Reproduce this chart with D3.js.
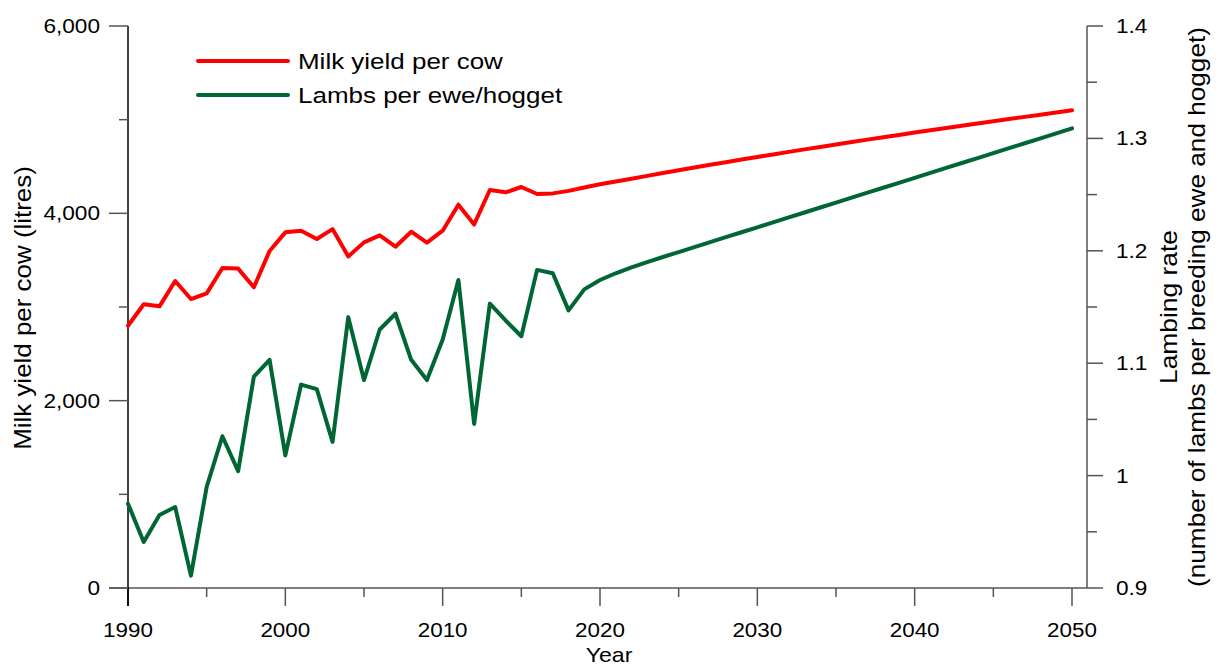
<!DOCTYPE html>
<html>
<head>
<meta charset="utf-8">
<script src="https://cdn.jsdelivr.net/npm/d3@7"></script>
<style>
  body { margin: 0; background: #fff; }
  svg { font-family: "Liberation Sans", Arial, sans-serif; }
  .axis text { font-size: 20px; fill: #000; }
  .axis-label { font-size: 24px; fill: #000; }
  .legend-label { font-size: 22px; fill: #000; }
</style>
</head>
<body>
<svg width="1218" height="666"></svg>
<script>
var svg = d3.select('svg');

// Data
var years = d3.range(1990, 2051);

var milkYield = [2800, 3029, 3007, 3277, 3085, 3146, 3416, 3410, 3210, 3598,
    3797, 3815, 3726, 3832, 3540, 3690, 3765, 3644, 3804, 3687,
    3815, 4092, 3882, 4249, 4224, 4281, 4206, 4213, 4240, 4275,
    4310, 4340, 4370, 4400, 4430, 4460, 4490, 4518, 4546, 4574,
    4602, 4629, 4656, 4683, 4709, 4735, 4761, 4787, 4812, 4837,
    4862, 4887, 4911, 4935, 4959, 4983, 5007, 5030, 5053, 5076,
    5100];

var lambingRate = [0.975, 0.941, 0.965, 0.972, 0.911, 0.990, 1.035, 1.004, 1.088, 1.103,
    1.018, 1.081, 1.077, 1.030, 1.141, 1.085, 1.130, 1.144, 1.103, 1.085,
    1.121, 1.174, 1.046, 1.153, 1.138, 1.124, 1.183, 1.180, 1.147, 1.1657,
    1.1740, 1.1800, 1.1853, 1.1900, 1.1945, 1.1989, 1.2033, 1.2077, 1.2121, 1.2165,
    1.2209, 1.2253, 1.2297, 1.2341, 1.2385, 1.2429, 1.2473, 1.2517, 1.2561, 1.2605,
    1.2649, 1.2693, 1.2737, 1.2781, 1.2825, 1.2869, 1.2913, 1.2957, 1.3001, 1.3045,
    1.3089];

var xTicks = [1990, 2000, 2010, 2020, 2030, 2040, 2050];
var xMinorTicks = [1995, 2005, 2015, 2025, 2035, 2045];
var leftTicks = [0, 2000, 4000, 6000];
var leftMinorTicks = [1000, 3000, 5000];
var rightTicks = [0.9, 1.0, 1.1, 1.2, 1.3, 1.4];
var rightMinorTicks = [0.95, 1.05, 1.15, 1.25, 1.35];

var seriesNames = ['Milk yield per cow', 'Lambs per ewe/hogget'];
var seriesColors = ['#ff0000', '#006633'];

// Layout
var plot = {l: 128, r: 1087, t: 26, b: 588};

var xScale = d3.scaleLinear().domain([1990, 2050]).range([plot.l, 1072]);
var yLeft = d3.scaleLinear().domain([0, 6000]).range([plot.b, plot.t]);
var yRight = d3.scaleLinear().domain([0.9, 1.4]).range([plot.b, plot.t]);

var tickColor = '#555';

// reference type is a little wider than Arial, so stretch texts by a factor
function widen(sel, factor) {
    sel.each(function() {
        var len = this.getComputedTextLength();
        d3.select(this)
            .attr('textLength', len * factor)
            .attr('lengthAdjust', 'spacingAndGlyphs');
    });
}

// Bottom axis
var bottomG = svg.append('g').attr('class', 'axis');
bottomG.append('line')
    .attr('x1', 109).attr('x2', plot.r)
    .attr('y1', plot.b).attr('y2', plot.b)
    .attr('stroke', tickColor).attr('stroke-width', 1.5);
bottomG.selectAll('.xmajor')
    .data(xTicks)
    .enter()
    .append('line')
    .attr('class', 'xmajor')
    .attr('x1', function(d) { return xScale(d); })
    .attr('x2', function(d) { return xScale(d); })
    .attr('y1', plot.b).attr('y2', plot.b + 18)
    .attr('stroke', function(d) { return d === 1990 ? '#000' : tickColor; })
    .attr('stroke-width', 1.5);
bottomG.selectAll('.xminor')
    .data(xMinorTicks)
    .enter()
    .append('line')
    .attr('class', 'xminor')
    .attr('x1', function(d) { return xScale(d); })
    .attr('x2', function(d) { return xScale(d); })
    .attr('y1', plot.b).attr('y2', plot.b + 9)
    .attr('stroke', tickColor).attr('stroke-width', 1.5);
bottomG.selectAll('.xlabel')
    .data(xTicks)
    .enter()
    .append('text')
    .attr('class', 'xlabel')
    .attr('x', function(d) { return xScale(d); })
    .attr('y', 637)
    .attr('text-anchor', 'middle')
    .text(function(d) { return d; })
    .call(widen, 1.12);

svg.append('text')
    .attr('class', 'axis-label')
    .style('font-size', '21px')
    .attr('x', 609).attr('y', 662)
    .attr('text-anchor', 'middle')
    .text('Year')
    .call(widen, 1.1);

// Left axis
var leftG = svg.append('g').attr('class', 'axis');
leftG.append('line')
    .attr('x1', plot.l).attr('x2', plot.l)
    .attr('y1', plot.t).attr('y2', plot.b + 18)
    .attr('stroke', '#000').attr('stroke-width', 1.5);
leftG.selectAll('.ymajor')
    .data(leftTicks)
    .enter()
    .append('line')
    .attr('x1', 109).attr('x2', plot.l)
    .attr('y1', function(d) { return yLeft(d); })
    .attr('y2', function(d) { return yLeft(d); })
    .attr('stroke', tickColor).attr('stroke-width', 1.5);
leftG.selectAll('.yminor')
    .data(leftMinorTicks)
    .enter()
    .append('line')
    .attr('x1', 119).attr('x2', plot.l)
    .attr('y1', function(d) { return yLeft(d); })
    .attr('y2', function(d) { return yLeft(d); })
    .attr('stroke', tickColor).attr('stroke-width', 1.5);
leftG.selectAll('.ylabel')
    .data(leftTicks)
    .enter()
    .append('text')
    .attr('x', 100)
    .attr('y', function(d) { return yLeft(d); })
    .attr('dy', '0.35em')
    .attr('text-anchor', 'end')
    .text(function(d) { return d3.format(',')(d); })
    .call(widen, 1.13);

svg.append('text')
    .attr('class', 'axis-label')
    .attr('transform', 'translate(' + [31, 308] + ')rotate(-90)')
    .attr('text-anchor', 'middle')
    .text('Milk yield per cow (litres)')
    .call(widen, 1.08);

// Right axis
var rightG = svg.append('g').attr('class', 'axis');
rightG.append('line')
    .attr('x1', plot.r).attr('x2', plot.r)
    .attr('y1', plot.t).attr('y2', plot.b)
    .attr('stroke', tickColor).attr('stroke-width', 1.5);
rightG.selectAll('.rmajor')
    .data(rightTicks)
    .enter()
    .append('line')
    .attr('x1', plot.r).attr('x2', plot.r + 16)
    .attr('y1', function(d) { return yRight(d); })
    .attr('y2', function(d) { return yRight(d); })
    .attr('stroke', tickColor).attr('stroke-width', 1.5);
rightG.selectAll('.rminor')
    .data(rightMinorTicks)
    .enter()
    .append('line')
    .attr('x1', plot.r).attr('x2', plot.r + 10)
    .attr('y1', function(d) { return yRight(d); })
    .attr('y2', function(d) { return yRight(d); })
    .attr('stroke', tickColor).attr('stroke-width', 1.5);
rightG.selectAll('.rlabel')
    .data(rightTicks)
    .enter()
    .append('text')
    .attr('x', 1116)
    .attr('y', function(d) { return yRight(d); })
    .attr('dy', '0.35em')
    .attr('text-anchor', 'start')
    .text(function(d) { return d3.format('~g')(d); })
    .call(widen, 1.13);

var rightTitle = svg.append('g')
    .attr('transform', 'translate(' + [1177, 307] + ')rotate(-90)');
rightTitle.append('text')
    .attr('class', 'axis-label')
    .attr('text-anchor', 'middle')
    .text('Lambing rate')
    .call(widen, 1.1);
rightTitle.append('text')
    .attr('class', 'axis-label')
    .attr('y', 28)
    .attr('text-anchor', 'middle')
    .text('(number of lambs per breeding ewe and hogget)')
    .call(widen, 1.09);

// Lines
var milkLine = d3.line()
    .x(function(d, i) { return xScale(years[i]); })
    .y(function(d) { return yLeft(d); });
var lambLine = d3.line()
    .x(function(d, i) { return xScale(years[i]); })
    .y(function(d) { return yRight(d); });

svg.append('path')
    .datum(lambingRate)
    .attr('d', lambLine)
    .attr('fill', 'none')
    .attr('stroke', seriesColors[1])
    .attr('stroke-width', 4)
    .attr('stroke-linejoin', 'round')
    .attr('stroke-linecap', 'round');

svg.append('path')
    .datum(milkYield)
    .attr('d', milkLine)
    .attr('fill', 'none')
    .attr('stroke', seriesColors[0])
    .attr('stroke-width', 4)
    .attr('stroke-linejoin', 'round')
    .attr('stroke-linecap', 'round');

// Legend
var legendG = svg.append('g').attr('transform', 'translate(198, 61)');
var legendItems = legendG.selectAll('.legend-item')
    .data(seriesNames)
    .enter()
    .append('g')
    .attr('class', 'legend-item')
    .attr('transform', function(d, i) { return 'translate(0,' + (i * 34) + ')'; });
legendItems.append('line')
    .attr('x1', 0).attr('x2', 90)
    .attr('stroke', function(d, i) { return seriesColors[i]; })
    .attr('stroke-width', 4)
    .attr('stroke-linecap', 'round');
legendItems.append('text')
    .attr('class', 'legend-label')
    .attr('x', 100)
    .attr('y', 8)
    .text(function(d) { return d; })
    .call(widen, 1.18);
</script>
</body>
</html>
